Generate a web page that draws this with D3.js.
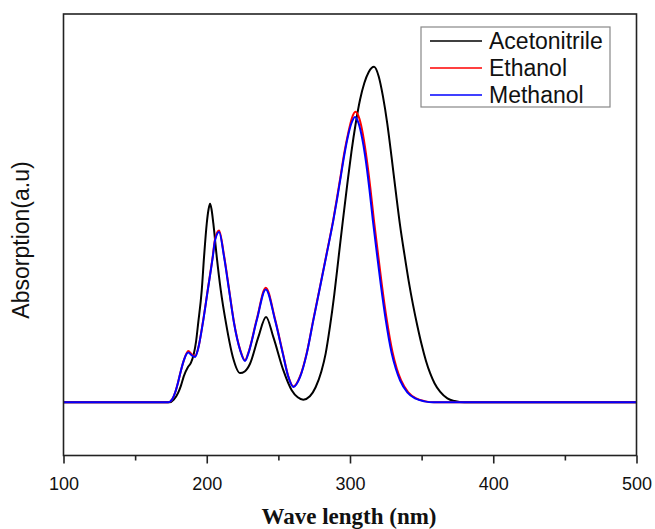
<!DOCTYPE html>
<html>
<head>
<meta charset="utf-8">
<script src="https://cdn.jsdelivr.net/npm/d3@7"></script>
<style>
  html, body { margin: 0; padding: 0; background: #fff; }
  svg { display: block; }
</style>
</head>
<body>
<svg id="chart" width="655" height="529"></svg>
<script>
// ---- Data ----
const seriesNames = ["Acetonitrile", "Ethanol", "Methanol"];
const seriesColors = ["#000000", "#ff0000", "#0000ff"];

const xTicks = [100, 200, 300, 400, 500];
const xMinorTicks = [150, 250, 350, 450];

// Acetonitrile (black)
const acnWl  = [100, 150, 174, 177, 180, 182, 184, 186.9, 189, 191, 192.5, 194, 196.5, 198.1, 200, 201.3, 202.3, 203.3, 204.6, 207, 209.8, 213.5, 218.2, 223.3, 226.5, 230.2, 236, 241.4, 246.5, 253.5, 259.3, 263.5, 267.4, 272, 276, 280, 283, 286, 289, 292, 295, 298, 301, 304, 307, 310, 313, 316.8, 320, 323, 326, 329, 332, 335, 338, 341, 344, 347, 350, 353, 356, 359, 363, 368, 373, 380, 420, 500];
const acnAbs = [0, 0, 0, 0.008, 0.028, 0.05, 0.078, 0.105, 0.118, 0.145, 0.18, 0.235, 0.333, 0.432, 0.532, 0.575, 0.591, 0.575, 0.532, 0.432, 0.333, 0.234, 0.135, 0.087, 0.092, 0.115, 0.194, 0.254, 0.194, 0.095, 0.036, 0.015, 0.008, 0.018, 0.045, 0.092, 0.145, 0.225, 0.32, 0.43, 0.54, 0.645, 0.745, 0.83, 0.9, 0.95, 0.982, 0.998, 0.97, 0.91, 0.83, 0.73, 0.625, 0.525, 0.44, 0.36, 0.29, 0.228, 0.172, 0.124, 0.086, 0.057, 0.031, 0.012, 0.004, 0, 0, 0];

// Ethanol (red)
const ethWl  = [100, 150, 173, 176, 178, 180, 182, 184, 187.1, 189.5, 191.8, 194, 197.2, 200.7, 204.2, 205.8, 208.6, 212.1, 215.6, 219.1, 223.3, 226.7, 229, 234.9, 241.2, 247.7, 253.1, 257, 260.5, 265.1, 269.8, 274.4, 279.1, 283.8, 288.4, 291, 293.5, 296, 298.7, 301.3, 303.8, 306.6, 309.1, 311.2, 314.2, 316.7, 319.2, 322.2, 325.7, 329.7, 332.7, 335.7, 340.7, 346.2, 352.7, 359, 500];
const ethAbs = [0, 0, 0, 0.01, 0.03, 0.06, 0.095, 0.125, 0.153, 0.143, 0.137, 0.16, 0.236, 0.335, 0.435, 0.486, 0.511, 0.436, 0.336, 0.236, 0.157, 0.125, 0.147, 0.247, 0.341, 0.247, 0.147, 0.077, 0.047, 0.077, 0.147, 0.246, 0.345, 0.445, 0.545, 0.61, 0.675, 0.742, 0.8, 0.845, 0.864, 0.843, 0.795, 0.738, 0.638, 0.542, 0.454, 0.351, 0.245, 0.149, 0.1, 0.065, 0.03, 0.012, 0.003, 0, 0];

// Methanol (blue)
const metWl  = [100, 150, 173, 176, 178, 180, 182, 184, 187.1, 189.5, 191.8, 194, 197.2, 200.7, 204.2, 205.8, 208.6, 212.1, 215.6, 219.1, 223.3, 226.7, 229, 234.9, 241.2, 247.7, 253.1, 257, 260.5, 265.1, 269.8, 274.4, 279.1, 283.8, 288.4, 291, 293.5, 296, 298.5, 301, 303.5, 306, 308.5, 310.5, 313.5, 316, 318.5, 321.5, 325, 329, 332, 335, 340, 345.5, 352, 358, 500];
const metAbs = [0, 0, 0, 0.01, 0.03, 0.06, 0.095, 0.125, 0.148, 0.14, 0.135, 0.16, 0.234, 0.333, 0.432, 0.482, 0.507, 0.432, 0.333, 0.234, 0.155, 0.123, 0.145, 0.244, 0.336, 0.244, 0.145, 0.075, 0.046, 0.075, 0.145, 0.244, 0.343, 0.443, 0.542, 0.605, 0.67, 0.735, 0.79, 0.83, 0.849, 0.83, 0.785, 0.735, 0.636, 0.54, 0.452, 0.35, 0.244, 0.148, 0.1, 0.065, 0.03, 0.012, 0.003, 0, 0];

const xDomain = [100, 500];
const yDomain = [-0.158, 1.155];

// ---- Layout ----
const svg = d3.select("#chart");
const mLeft = 63.5, mRight = 636.5, mTop = 14, mBottom = 455.5;

const x = d3.scaleLinear().domain(xDomain).range([mLeft, mRight]);
const y = d3.scaleLinear().domain(yDomain).range([mBottom, mTop]);

const series = [
  { name: seriesNames[0], color: seriesColors[0], wl: acnWl, abs: acnAbs },
  { name: seriesNames[1], color: seriesColors[1], wl: ethWl, abs: ethAbs },
  { name: seriesNames[2], color: seriesColors[2], wl: metWl, abs: metAbs }
];

const line = d3.line()
  .x(d => x(d[0]))
  .y(d => y(d[1]))
  .curve(d3.curveMonotoneX);

svg.append("defs").append("clipPath").attr("id", "clip")
  .append("rect").attr("x", mLeft).attr("y", mTop)
  .attr("width", mRight - mLeft).attr("height", mBottom - mTop);

const plot = svg.append("g").attr("clip-path", "url(#clip)");
series.forEach(s => {
  plot.append("path")
    .datum(s.wl.map((w, i) => [w, s.abs[i]]))
    .attr("fill", "none")
    .attr("stroke", s.color)
    .attr("stroke-width", 2)
    .attr("stroke-linejoin", "round")
    .attr("d", line);
});

// Frame
svg.append("rect")
  .attr("x", mLeft).attr("y", mTop)
  .attr("width", mRight - mLeft).attr("height", mBottom - mTop)
  .attr("fill", "none").attr("stroke", "#222").attr("stroke-width", 1.6);

// Bottom axis (major)
const xAxis = d3.axisBottom(x).tickValues(xTicks).tickSize(8).tickSizeOuter(0).tickPadding(14).tickFormat(d3.format("d"));
const gx = svg.append("g").attr("transform", `translate(0,${mBottom})`).call(xAxis);
gx.select(".domain").remove();
gx.selectAll(".tick line").attr("stroke", "#222").attr("stroke-width", 1.6);
gx.selectAll(".tick text").attr("font-family", "Arial, 'Liberation Sans', sans-serif").attr("font-size", 18).attr("fill", "#111");

// Minor ticks
const xMinor = d3.axisBottom(x).tickValues(xMinorTicks).tickSize(5).tickSizeOuter(0).tickFormat("");
const gm = svg.append("g").attr("transform", `translate(0,${mBottom})`).call(xMinor);
gm.select(".domain").remove();
gm.selectAll(".tick line").attr("stroke", "#222").attr("stroke-width", 1.6);

// Axis titles
svg.append("text")
  .attr("x", 349).attr("y", 524)
  .attr("text-anchor", "middle")
  .attr("font-family", "'Times New Roman', 'Liberation Serif', serif")
  .attr("font-weight", "bold")
  .attr("font-size", 23)
  .attr("fill", "#111")
  .text("Wave length (nm)");

svg.append("text")
  .attr("transform", "translate(29,240) rotate(-90)")
  .attr("text-anchor", "middle")
  .attr("font-family", "Arial, 'Liberation Sans', sans-serif")
  .attr("font-size", 23)
  .attr("fill", "#111")
  .text("Absorption(a.u)");

// Legend
const lg = svg.append("g");
lg.append("rect")
  .attr("x", 421).attr("y", 27).attr("width", 189).attr("height", 80)
  .attr("fill", "#fff").attr("stroke", "#888").attr("stroke-width", 1.2);
series.forEach((s, i) => {
  const yy = 41 + i * 27;
  lg.append("line").attr("x1", 430).attr("x2", 482).attr("y1", yy).attr("y2", yy)
    .attr("stroke", s.color).attr("stroke-width", 1.5);
  lg.append("text").attr("x", 489).attr("y", yy).attr("dy", "0.36em")
    .attr("font-family", "Arial, 'Liberation Sans', sans-serif")
    .attr("font-size", 23).attr("fill", "#111")
    .text(s.name);
});
</script>
</body>
</html>
